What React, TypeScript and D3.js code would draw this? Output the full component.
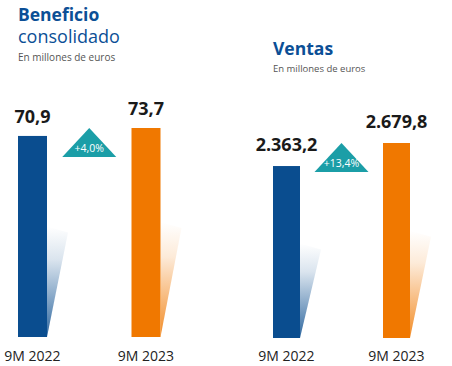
import React from "react";
import * as d3 from "d3";

const periods = ["9M 2022", "9M 2023"];
const beneficio = [70.9, 73.7];
const ventas = [2363.2, 2679.8];
// variación interanual publicada
const variations = [0.04, 0.134];
const barColors = ["#0a4d8f", "#f07800"];

const es = d3.formatLocale({ decimal: ",", thousands: ".", grouping: [3], currency: ["", " €"] });
const fmtValue = es.format(",.1f");
const fmtChange = es.format("+.1%");

const W = 452;
const H = 366;
const FONT = "'Open Sans', 'Noto Sans', sans-serif";

type PanelProps = {
  id: string;
  values: number[];
  change: number;
  titleBold: string;
  titleLight?: string;
  titleX: number;
  titleY: number;
  subY: number;
  subSize: number;
  xRange: [number, number];
  barWidth: number;
  baseY: number;
  topY: number;
  labelGap: number;
};

function Panel(p: PanelProps) {
  const x = d3.scalePoint<string>().domain(periods).range(p.xRange);
  const y = d3.scaleLinear().domain([0, d3.max(p.values)!]).range([p.baseY, p.topY]);
  const mid = (x(periods[0])! + x(periods[1])!) / 2;
  const triTop = y(p.values[1]);
  const triW = 54;
  const triH = 29;

  return (
    <g>
      <text x={p.titleX} y={p.titleY} fill="#0b4f96" fontSize={17.5} fontWeight={700}>
        {p.titleBold}
      </text>
      {p.titleLight && (
        <text x={p.titleX} y={p.titleY + 22} fill="#0b4f96" fontSize={18}>
          {p.titleLight}
        </text>
      )}
      <text x={p.titleX} y={p.subY} fill="#555" fontSize={p.subSize}>
        En millones de euros
      </text>

      {periods.map((d, i) => {
        const cx = x(d)!;
        const top = y(p.values[i]);
        const h = p.baseY - top;
        const right = cx + p.barWidth / 2;
        const sh = h * 0.55;
        return (
          <g key={d}>
            <path
              d={`M${right},${p.baseY} L${right},${p.baseY - sh} L${right + 21},${p.baseY - sh + 6} Z`}
              fill={`url(#${p.id}-sh${i})`}
            />
            <rect x={cx - p.barWidth / 2} y={top} width={p.barWidth} height={h} fill={barColors[i]} />
            <text x={cx} y={top - p.labelGap} textAnchor="middle" fontSize={18} fontWeight={700} fill="#1a1a1a">
              {fmtValue(p.values[i])}
            </text>
            <text x={cx} y={361} textAnchor="middle" fontSize={14} fill="#222">
              {d}
            </text>
          </g>
        );
      })}

      <path
        d={`M${mid},${triTop} L${mid + triW / 2},${triTop + triH} L${mid - triW / 2},${triTop + triH} Z`}
        fill="#1b9ea7"
      />
      <text x={mid} y={triTop + triH - 5} textAnchor="middle" fontSize={10.5} fill="#fff">
        {fmtChange(p.change)}
      </text>
    </g>
  );
}

export default function App() {
  return (
    <svg
      width={W}
      height={H}
      style={{ position: "absolute", left: 0, top: 0, background: "#fff" }}
      fontFamily={FONT}
    >
      <defs>
        {["l", "r"].map((id) =>
          barColors.map((c, i) => (
            <linearGradient key={id + i} id={`${id}-sh${i}`} x1="0" y1="1" x2="0" y2="0">
              <stop offset="0%" stopColor={c} stopOpacity={0.85} />
              <stop offset="70%" stopColor={c} stopOpacity={0.15} />
              <stop offset="100%" stopColor={c} stopOpacity={0} />
            </linearGradient>
          ))
        )}
      </defs>
      <Panel
        id="l"
        values={beneficio}
        change={variations[0]}
        titleBold="Beneficio"
        titleLight="consolidado"
        titleX={18}
        titleY={21}
        subY={61}
        subSize={10}
        xRange={[32.5, 146]}
        barWidth={29}
        baseY={337}
        topY={128}
        labelGap={13}
      />
      <Panel
        id="r"
        values={ventas}
        change={variations[1]}
        titleBold="Ventas"
        titleX={273}
        titleY={55}
        subY={72}
        subSize={9.5}
        xRange={[286.5, 396.5]}
        barWidth={27}
        baseY={338}
        topY={143}
        labelGap={15}
      />
    </svg>
  );
}
